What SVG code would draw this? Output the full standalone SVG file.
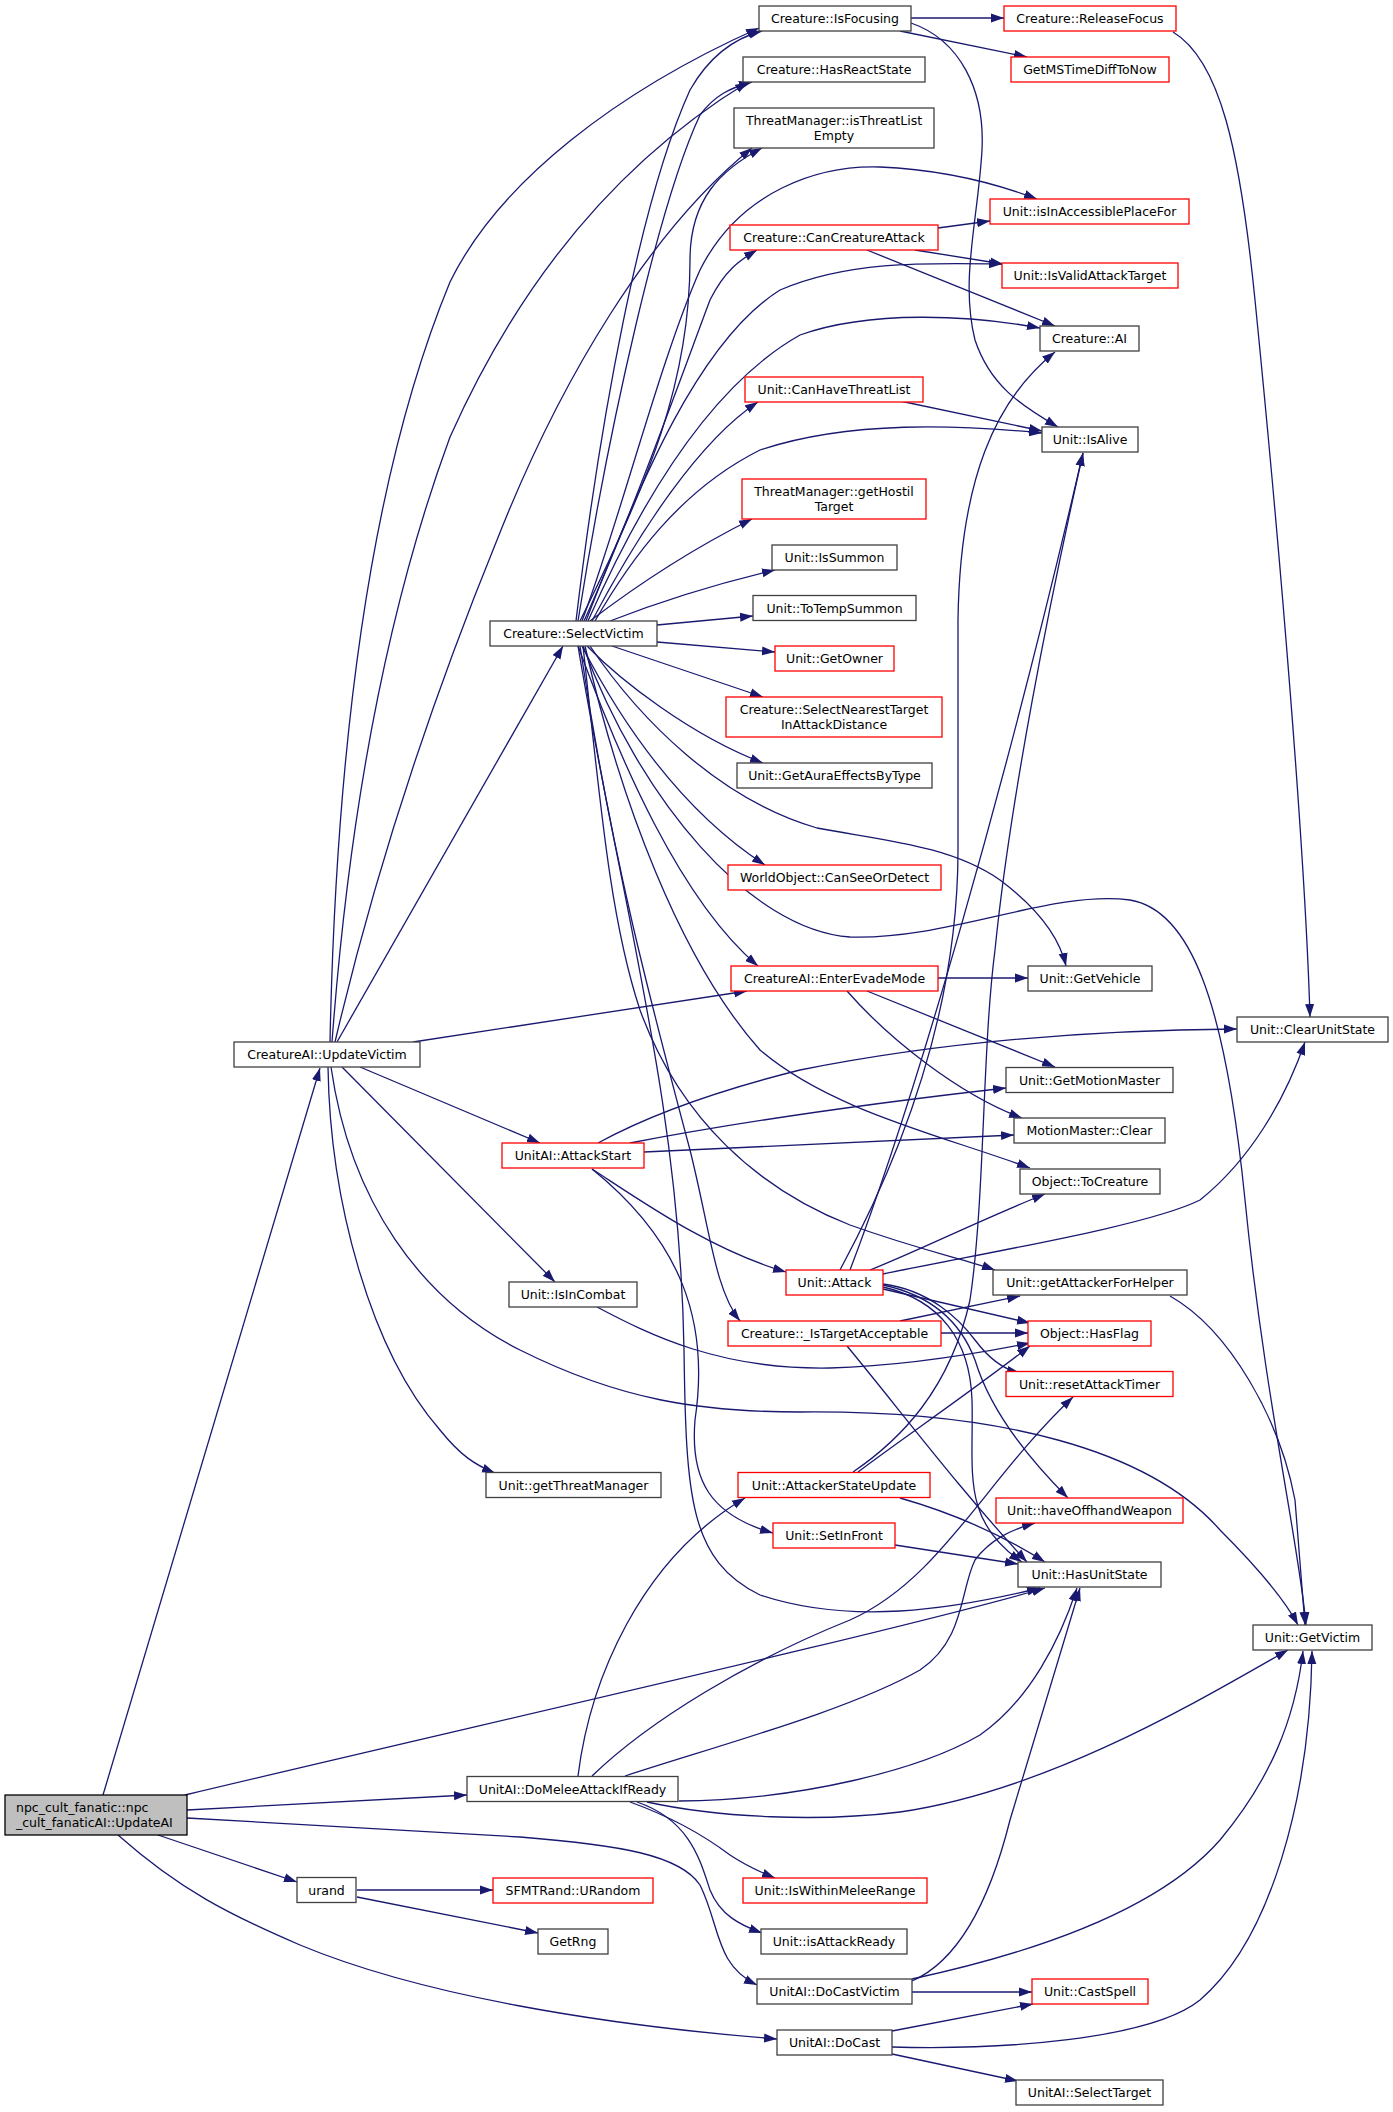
<svg xmlns="http://www.w3.org/2000/svg" width="1393" height="2112" viewBox="0 0 1393 2112">
<defs>
<marker id="a" markerUnits="userSpaceOnUse" markerWidth="14" markerHeight="10" viewBox="0 0 14 10" refX="13" refY="5" orient="auto"><path d="M0,0.5 L13,5 L0,9.5 z" fill="#191970"/></marker>
<style>
.n rect{fill:#fff;stroke:#404040;stroke-width:1.3}
.r rect{stroke:#ff0000}
.g rect{fill:#bfbfbf;stroke:#000}
text{font-family:"DejaVu Sans","Liberation Sans",sans-serif;font-size:12.5px;text-anchor:middle;fill:#000}
.g text{text-anchor:start}
#edges path{fill:none;stroke:#191970;stroke-width:1.3;marker-end:url(#a)}
</style>
</defs>
<rect x="0" y="0" width="1393" height="2112" fill="#fff"/>
<g id="edges">
<path d="M103,1795 L320,1068"/>
<path d="M185,1795 C500,1720 900,1630 1045,1588"/>
<path d="M187,1810 L467,1795"/>
<path d="M187,1818 L520,1837 C620,1845 680,1855 700,1885 C720,1925 715,1965 757,1985"/>
<path d="M158,1835 L297,1882"/>
<path d="M118,1835 C180,1890 230,1915 300,1945 C420,1995 600,2025 777,2039"/>
<path d="M330,1042 C335,800 360,500 450,282 C500,180 620,90 759,28"/>
<path d="M332,1042 C350,800 390,600 450,437 C520,280 620,160 748,82"/>
<path d="M335,1042 C380,850 440,680 497,540 C560,380 650,230 752,148"/>
<path d="M337,1042 L563,646"/>
<path d="M413,1042 L747,991"/>
<path d="M360,1067 L540,1143"/>
<path d="M342,1067 L555,1282"/>
<path d="M328,1067 C330,1200 370,1350 440,1430 C460,1455 475,1465 495,1473"/>
<path d="M331,1067 C350,1200 420,1300 520,1350 C620,1400 700,1412 800,1412 C1000,1410 1150,1450 1220,1530 C1260,1570 1285,1600 1298,1625"/>
<path d="M576,621 C600,420 640,200 690,90 C710,55 735,38 762,31"/>
<path d="M578,621 C610,420 660,200 700,115 C715,95 730,88 752,82"/>
<path d="M580,621 C650,480 690,380 690,260 C690,200 720,170 762,148"/>
<path d="M582,621 C620,520 660,360 700,270 C740,190 820,165 880,167 C950,170 1000,185 1037,199"/>
<path d="M584,621 C630,520 680,380 710,300 C725,270 740,260 757,250"/>
<path d="M586,621 C640,480 700,340 780,290 C850,260 930,263 1002,264"/>
<path d="M588,621 C650,480 720,380 800,335 C870,310 970,315 1040,328"/>
<path d="M592,621 C640,530 700,440 758,402"/>
<path d="M595,621 C630,560 680,490 760,450 C850,420 960,425 1042,433"/>
<path d="M590,621 Q670,560 752,519"/>
<path d="M610,621 Q690,590 775,570"/>
<path d="M657,625 L753,616"/>
<path d="M657,642 L775,652"/>
<path d="M612,646 L763,697"/>
<path d="M587,646 C620,680 690,735 763,763"/>
<path d="M582,646 C620,720 680,810 765,865"/>
<path d="M578,646 C620,760 680,900 758,966"/>
<path d="M590,646 C640,720 720,800 817,828 C880,840 950,845 1000,880 C1040,910 1060,940 1066,966"/>
<path d="M583,646 C640,800 750,930 850,937 C950,940 1050,890 1130,900 C1190,910 1225,1000 1245,1200 C1265,1400 1300,1550 1306,1625"/>
<path d="M585,646 C620,800 680,960 760,1050 C830,1110 940,1135 1030,1168"/>
<path d="M583,646 C600,800 610,920 640,1010 C680,1120 760,1190 850,1225 C920,1250 960,1258 995,1270"/>
<path d="M580,646 C610,850 650,1000 690,1150 C710,1230 715,1290 740,1321"/>
<path d="M578,646 C620,900 680,1100 684,1350 C686,1500 690,1560 760,1595 C850,1625 950,1610 1040,1588"/>
<path d="M911,18 L1004,18"/>
<path d="M900,31 L1027,57"/>
<path d="M911,23 C960,40 985,90 982,150 C978,220 960,280 975,340 C990,385 1020,405 1058,427"/>
<path d="M1173,32 C1220,60 1240,150 1255,300 C1280,550 1305,850 1310,1017"/>
<path d="M938,228 L990,221"/>
<path d="M915,250 L1003,264"/>
<path d="M867,250 L1055,326"/>
<path d="M900,401 L1042,431"/>
<path d="M938,978 L1028,978"/>
<path d="M867,991 L1055,1067"/>
<path d="M847,991 C890,1040 960,1095 1022,1118"/>
<path d="M598,1143 C640,1120 700,1095 800,1070 C950,1040 1100,1030 1237,1029"/>
<path d="M630,1143 C750,1120 900,1100 1006,1088"/>
<path d="M644,1152 L1014,1135"/>
<path d="M592,1169 C640,1200 710,1250 786,1272"/>
<path d="M592,1169 C680,1240 710,1320 695,1420 C690,1480 710,1515 773,1533"/>
<path d="M850,1270 C915,1100 1005,790 1083,453"/>
<path d="M840,1270 C910,1140 958,1000 958,850 L958,620 C960,480 995,400 1055,352"/>
<path d="M853,1472 C900,1440 950,1390 970,1300 C985,1200 982,1050 995,950 C1010,800 1050,600 1083,453"/>
<path d="M870,1270 C920,1250 980,1220 1045,1194"/>
<path d="M883,1274 C1000,1250 1150,1225 1200,1200 C1250,1160 1285,1100 1305,1042"/>
<path d="M883,1289 L1030,1323"/>
<path d="M883,1284 C930,1290 960,1320 975,1340 C990,1360 1005,1370 1020,1373"/>
<path d="M883,1285 C930,1295 960,1320 975,1360 C990,1410 1030,1460 1068,1498"/>
<path d="M883,1287 C940,1300 970,1340 972,1400 C974,1470 960,1520 1022,1562"/>
<path d="M847,1346 C900,1410 960,1490 1027,1562"/>
<path d="M900,1321 L1020,1296"/>
<path d="M941,1333 L1028,1333"/>
<path d="M900,1498 C960,1515 1010,1540 1045,1562"/>
<path d="M858,1472 C900,1440 960,1400 1030,1346"/>
<path d="M895,1545 L1018,1564"/>
<path d="M1170,1296 C1230,1330 1280,1420 1295,1500 C1300,1560 1303,1600 1305,1625"/>
<path d="M597,1307 C650,1335 720,1370 830,1368 C900,1366 970,1355 1030,1343"/>
<path d="M578,1776 C590,1680 640,1560 745,1498"/>
<path d="M592,1776 C650,1720 750,1660 850,1620 C940,1580 985,1480 1073,1397"/>
<path d="M625,1776 C720,1745 850,1710 920,1670 C965,1640 960,1590 975,1560 C990,1540 1010,1530 1035,1523"/>
<path d="M679,1801 C800,1800 920,1770 980,1735 C1030,1700 1060,1640 1077,1588"/>
<path d="M647,1802 C720,1818 820,1822 900,1812 C1050,1790 1200,1700 1288,1650"/>
<path d="M630,1802 C680,1820 710,1840 730,1855 C745,1865 760,1872 775,1878"/>
<path d="M637,1802 C690,1820 700,1860 710,1890 C720,1915 740,1925 762,1933"/>
<path d="M912,1992 L1032,1992"/>
<path d="M912,1981 C960,1960 990,1900 1010,1820 C1040,1720 1065,1640 1080,1588"/>
<path d="M912,1979 C1000,1960 1150,1920 1220,1840 C1270,1780 1295,1720 1303,1651"/>
<path d="M892,2031 L1033,2004"/>
<path d="M892,2047 C1000,2050 1150,2040 1200,2000 C1270,1940 1310,1800 1312,1651"/>
<path d="M892,2054 L1018,2081"/>
<path d="M357,1890 L493,1890"/>
<path d="M357,1897 L538,1933"/>
</g>
<g id="n_IsFocusing" class="n"><rect x="759" y="6" width="152" height="25"/><text x="835" y="23">Creature::IsFocusing</text></g>
<g id="n_ReleaseFocus" class="n r"><rect x="1004" y="6" width="172" height="25"/><text x="1090" y="23">Creature::ReleaseFocus</text></g>
<g id="n_GetMSTimeDiffToNow" class="n r"><rect x="1011" y="57" width="158" height="25"/><text x="1090" y="74">GetMSTimeDiffToNow</text></g>
<g id="n_HasReactState" class="n"><rect x="743" y="57" width="182" height="25"/><text x="834" y="74">Creature::HasReactState</text></g>
<g id="n_isThreatListEmpty" class="n"><rect x="734" y="108" width="200" height="40"/><text x="834" y="125">ThreatManager::isThreatList</text><text x="834" y="140">Empty</text></g>
<g id="n_isInAccessiblePlaceFor" class="n r"><rect x="990" y="199" width="199" height="25"/><text x="1089.5" y="216">Unit::isInAccessiblePlaceFor</text></g>
<g id="n_CanCreatureAttack" class="n r"><rect x="730" y="225" width="208" height="25"/><text x="834" y="242">Creature::CanCreatureAttack</text></g>
<g id="n_IsValidAttackTarget" class="n r"><rect x="1002" y="263" width="176" height="25"/><text x="1090" y="280">Unit::IsValidAttackTarget</text></g>
<g id="n_CreatureAI" class="n"><rect x="1040" y="326" width="99" height="25"/><text x="1089.5" y="343">Creature::AI</text></g>
<g id="n_CanHaveThreatList" class="n r"><rect x="745" y="377" width="178" height="25"/><text x="834" y="394">Unit::CanHaveThreatList</text></g>
<g id="n_IsAlive" class="n"><rect x="1042" y="427" width="96" height="25"/><text x="1090" y="444">Unit::IsAlive</text></g>
<g id="n_getHostilTarget" class="n r"><rect x="742" y="479" width="184" height="40"/><text x="834" y="496">ThreatManager::getHostil</text><text x="834" y="511">Target</text></g>
<g id="n_IsSummon" class="n"><rect x="772" y="545" width="125" height="25"/><text x="834.5" y="562">Unit::IsSummon</text></g>
<g id="n_ToTempSummon" class="n"><rect x="753" y="595.5" width="163" height="25"/><text x="834.5" y="612.5">Unit::ToTempSummon</text></g>
<g id="n_SelectVictim" class="n"><rect x="490" y="621" width="167" height="25"/><text x="573.5" y="638">Creature::SelectVictim</text></g>
<g id="n_GetOwner" class="n r"><rect x="775" y="646" width="119" height="25"/><text x="834.5" y="663">Unit::GetOwner</text></g>
<g id="n_SelectNearestTarget" class="n r"><rect x="726" y="697" width="216" height="40"/><text x="834" y="714">Creature::SelectNearestTarget</text><text x="834" y="729">InAttackDistance</text></g>
<g id="n_GetAuraEffectsByType" class="n"><rect x="737" y="763" width="195" height="25"/><text x="834.5" y="780">Unit::GetAuraEffectsByType</text></g>
<g id="n_CanSeeOrDetect" class="n r"><rect x="728" y="865" width="213" height="25"/><text x="834.5" y="882">WorldObject::CanSeeOrDetect</text></g>
<g id="n_EnterEvadeMode" class="n r"><rect x="731" y="966" width="207" height="25"/><text x="834.5" y="983">CreatureAI::EnterEvadeMode</text></g>
<g id="n_GetVehicle" class="n"><rect x="1028" y="966" width="124" height="25"/><text x="1090" y="983">Unit::GetVehicle</text></g>
<g id="n_ClearUnitState" class="n"><rect x="1237" y="1017" width="151" height="25"/><text x="1312.5" y="1034">Unit::ClearUnitState</text></g>
<g id="n_UpdateVictim" class="n"><rect x="234" y="1042" width="186" height="25"/><text x="327" y="1059">CreatureAI::UpdateVictim</text></g>
<g id="n_GetMotionMaster" class="n"><rect x="1006" y="1067.5" width="167" height="25"/><text x="1089.5" y="1084.5">Unit::GetMotionMaster</text></g>
<g id="n_AttackStart" class="n r"><rect x="502" y="1143" width="142" height="25"/><text x="573" y="1160">UnitAI::AttackStart</text></g>
<g id="n_MotionMasterClear" class="n"><rect x="1014" y="1118" width="151" height="25"/><text x="1089.5" y="1135">MotionMaster::Clear</text></g>
<g id="n_ToCreature" class="n"><rect x="1020" y="1169" width="140" height="25"/><text x="1090" y="1186">Object::ToCreature</text></g>
<g id="n_Attack" class="n r"><rect x="786" y="1270" width="97" height="25"/><text x="834.5" y="1287">Unit::Attack</text></g>
<g id="n_getAttackerForHelper" class="n"><rect x="993" y="1270" width="194" height="25"/><text x="1090" y="1287">Unit::getAttackerForHelper</text></g>
<g id="n_IsInCombat" class="n"><rect x="509" y="1282" width="128" height="25"/><text x="573" y="1299">Unit::IsInCombat</text></g>
<g id="n_IsTargetAcceptable" class="n r"><rect x="728" y="1321" width="213" height="25"/><text x="834.5" y="1338">Creature::_IsTargetAcceptable</text></g>
<g id="n_HasFlag" class="n r"><rect x="1028" y="1321" width="123" height="25"/><text x="1089.5" y="1338">Object::HasFlag</text></g>
<g id="n_resetAttackTimer" class="n r"><rect x="1006" y="1371.5" width="167" height="25"/><text x="1089.5" y="1388.5">Unit::resetAttackTimer</text></g>
<g id="n_getThreatManager" class="n"><rect x="486" y="1472.5" width="175" height="25"/><text x="573.5" y="1489.5">Unit::getThreatManager</text></g>
<g id="n_AttackerStateUpdate" class="n r"><rect x="738" y="1472.5" width="192" height="25"/><text x="834" y="1489.5">Unit::AttackerStateUpdate</text></g>
<g id="n_haveOffhandWeapon" class="n r"><rect x="996" y="1498" width="187" height="25"/><text x="1089.5" y="1515">Unit::haveOffhandWeapon</text></g>
<g id="n_SetInFront" class="n r"><rect x="773" y="1523" width="122" height="25"/><text x="834" y="1540">Unit::SetInFront</text></g>
<g id="n_HasUnitState" class="n"><rect x="1018" y="1562" width="143" height="25"/><text x="1089.5" y="1579">Unit::HasUnitState</text></g>
<g id="n_GetVictim" class="n"><rect x="1253" y="1625" width="119" height="25"/><text x="1312.5" y="1642">Unit::GetVictim</text></g>
<g id="n_UpdateAI" class="n g"><rect x="5" y="1795" width="182" height="40"/><text x="16" y="1812">npc_cult_fanatic::npc</text><text x="16" y="1827">_cult_fanaticAI::UpdateAI</text></g>
<g id="n_DoMeleeAttackIfReady" class="n"><rect x="467" y="1776.5" width="211" height="25"/><text x="572.5" y="1793.5">UnitAI::DoMeleeAttackIfReady</text></g>
<g id="n_urand" class="n"><rect x="297" y="1877.5" width="59" height="25"/><text x="326.5" y="1894.5">urand</text></g>
<g id="n_URandom" class="n r"><rect x="493" y="1878" width="160" height="25"/><text x="573" y="1895">SFMTRand::URandom</text></g>
<g id="n_GetRng" class="n"><rect x="538" y="1929" width="70" height="25"/><text x="573" y="1946">GetRng</text></g>
<g id="n_IsWithinMeleeRange" class="n r"><rect x="743" y="1878" width="184" height="25"/><text x="835" y="1895">Unit::IsWithinMeleeRange</text></g>
<g id="n_isAttackReady" class="n"><rect x="761" y="1929" width="146" height="25"/><text x="834" y="1946">Unit::isAttackReady</text></g>
<g id="n_DoCastVictim" class="n"><rect x="757" y="1979" width="155" height="25"/><text x="834.5" y="1996">UnitAI::DoCastVictim</text></g>
<g id="n_CastSpell" class="n r"><rect x="1032" y="1979" width="116" height="25"/><text x="1090" y="1996">Unit::CastSpell</text></g>
<g id="n_DoCast" class="n"><rect x="777" y="2030" width="115" height="25"/><text x="834.5" y="2047">UnitAI::DoCast</text></g>
<g id="n_SelectTarget" class="n"><rect x="1016" y="2080" width="147" height="25"/><text x="1089.5" y="2097">UnitAI::SelectTarget</text></g>
</svg>
